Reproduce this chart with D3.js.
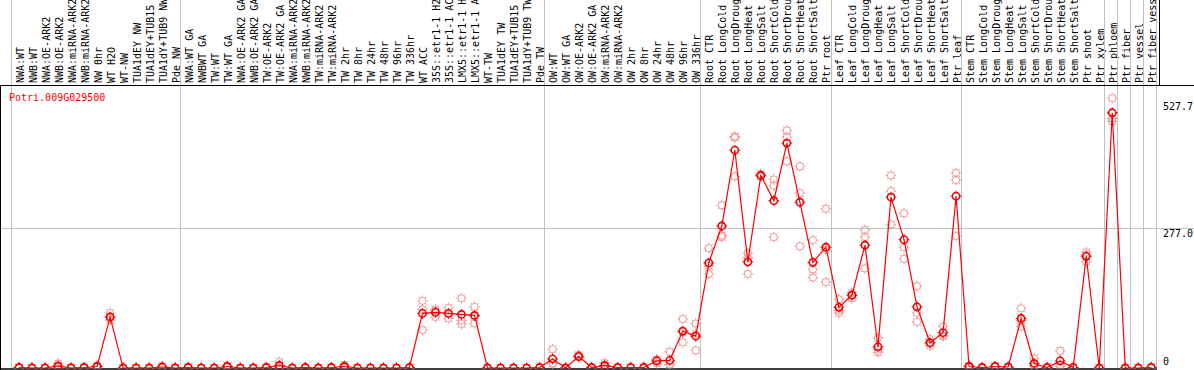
<!DOCTYPE html>
<html><head><meta charset="utf-8">
<script src="https://cdn.jsdelivr.net/npm/d3@7"></script>
<style>
html,body{margin:0;padding:0;background:#fff;}
svg{display:block;}
text{font-family:"DejaVu Sans Mono",monospace;font-size:10px;}
</style></head>
<body>
<script>
const geneName = "Potri.009G029500";
const labels = ["NWA:WT","NWB:WT","NWA:OE-ARK2","NWB:OE-ARK2","NWA:miRNA-ARK2","NWB:miRNA-ARK2","NW 0hr","WT H2O","WT-NW","TUA1dEY NW","TUA1dEY+TUB15 NW","TUA1dY+TUB9 NW","Pde NW",
"NWA:WT GA","NWBWT GA","TW:WT","TW:WT GA","NWA:OE-ARK2 GA","NWB:OE-ARK2 GA","TW:OE-ARK2","TW:OE-ARK2 GA","NWA:miRNA-ARK2 GA","NWB:miRNA-ARK2 GA","TW:miRNA-ARK2","TW:miRNA-ARK2 GA","TW 2hr","TW 8hr","TW 24hr","TW 48hr","TW 96hr","TW 336hr","WT ACC","35S::etr1-1 H2O","35S::etr1-1 ACC","LMX5::etr1-1 H2O","LMX5::etr1-1 ACC","WT-TW","TUA1dEY TW","TUA1dEY+TUB15 TW","TUA1dY+TUB9 TW","Pde TW",
"OW:WT","OW:WT GA","OW:OE-ARK2","OW:OE-ARK2 GA","OW:miRNA-ARK2","OW:miRNA-ARK2 GA","OW 2hr","OW 8hr","OW 24hr","OW 48hr","OW 96hr","OW 336hr",
"Root CTR","Root LongCold","Root LongDrought","Root LongHeat","Root LongSalt","Root ShortCold","Root ShortDrought","Root ShortHeat","Root ShortSalt","Ptr root",
"Leaf CTR","Leaf LongCold","Leaf LongDrought","Leaf LongHeat","Leaf LongSalt","Leaf ShortCold","Leaf ShortDrought","Leaf ShortHeat","Leaf ShortSalt","Ptr leaf",
"Stem CTR","Stem LongCold","Stem LongDrought","Stem LongHeat","Stem LongSalt","Stem ShortCold","Stem ShortDrought","Stem ShortHeat","Stem ShortSalt","Ptr shoot","Ptr xylem",
"Ptr phloem","Ptr fiber","Ptr vessel","Ptr fiber vessel"];
const means = [1,0,0,4,0,1,3,101,0,0,0,2,0,
1,0,0,3,0,0,1,5,0,1,0,1,3,0,0,0,0,1,108,110,108,106,104,0,0,0,0,1,
18,0,23,1,5,1,1,1,14,15,73,63,
208,281,431,210,381,331,445,328,209,239,
120,144,243,42,338,254,121,50,70,340,
3,1,3,2,98,9,1,14,1,221,0,
505,0,0,1];
const rep1 = [1,1,1,9,1,1,5,109,0,1,0,4,1,
2,0,0,5,0,0,2,12,0,1,0,1,6,0,0,0,0,1,133,116,119,138,121,0,0,0,0,1,
37,1,26,1,10,1,1,2,17,32,97,88,
237,322,458,227,384,373,470,399,253,315,
136,149,273,59,381,306,162,57,82,386,
5,1,4,2,118,19,1,34,1,229,0,
534,0,0,2];
const rep2 = [1,0,0,2,0,1,2,100,0,0,0,1,0,
1,0,0,3,0,0,1,2,0,1,0,1,2,0,0,0,0,1,116,113,107,94,103,0,0,0,0,1,
9,0,23,1,3,1,1,1,16,7,71,67,
202,262,456,218,380,361,457,346,195,234,
114,144,259,36,350,239,109,49,65,372,
2,1,3,2,94,4,1,6,1,224,0,
494,0,0,1];
const rep3 = [0,0,0,1,0,0,2,95,0,0,0,1,0,
0,0,0,1,0,0,0,1,0,0,0,0,1,0,0,0,0,0,75,101,98,87,88,0,0,0,0,0,
8,0,21,0,2,0,0,0,9,6,51,35,
186,259,379,186,379,259,409,241,179,170,
109,138,197,31,284,216,91,44,63,261,
2,0,2,1,82,4,0,3,0,210,0,
488,0,0,0];
const groupEnds = [0,13,41,53,63,73,84,85,86,87,88];
const yTicks = [527.7,277.0,0];

const W = 1194, H = 370;
const svg = d3.select("body").append("svg").attr("width",W).attr("height",H);

const x = d3.scaleBand().domain(d3.range(labels.length + 1)).range([10.7, 1156 + 13.02]);
const px = i => x(i) + 8.3;
const y = d3.scaleLinear().domain([0, 527.7]).range([368, 101.3]);

// header labels
svg.append("g").selectAll("text").data(labels).join("text")
  .attr("transform",(d,i)=>`translate(${px(i)+4.5},83) rotate(-90)`)
  .attr("text-anchor","start")
  .attr("fill","#000")
  .text(d=>d);

// vertical grid lines
svg.append("g").selectAll("line").data(groupEnds).join("line")
  .attr("x1",d=>Math.round(x(d))+0.5).attr("x2",d=>Math.round(x(d))+0.5)
  .attr("y1",0).attr("y2",369)
  .attr("stroke","#c0c0c0").attr("stroke-width",1);

// horizontal gridline at 277
svg.append("line").attr("x1",0).attr("x2",W)
  .attr("y1",Math.round(y(277.0))+0.5).attr("y2",Math.round(y(277.0))+0.5)
  .attr("stroke","#c0c0c0");

// header border
svg.append("line").attr("x1",0).attr("x2",W).attr("y1",85.5).attr("y2",85.5).attr("stroke","#000");
svg.append("line").attr("x1",1159.5).attr("x2",1159.5).attr("y1",0).attr("y2",85).attr("stroke","#000");
svg.append("line").attr("x1",0.5).attr("x2",0.5).attr("y1",85).attr("y2",370).attr("stroke","#000");
svg.append("line").attr("x1",0).attr("x2",1157).attr("y1",369).attr("y2",369).attr("stroke","#000").attr("stroke-width",1.5);

// y labels
svg.append("g").selectAll("text").data(yTicks).join("text")
  .attr("x",1163)
  .attr("y",d=> d===0 ? y(0)-3 : y(d)+9)
  .attr("fill","#000")
  .text(d=> d===0 ? "0" : d.toFixed(1));

// title
svg.append("text").attr("x",9).attr("y",101).attr("fill","#ff0000").text(geneName);

// plot clip
svg.append("clipPath").attr("id","pc").append("rect").attr("x",1).attr("y",86).attr("width",1160).attr("height",282.5);
const plot = svg.append("g").attr("clip-path","url(#pc)");

function marker(g, cx, cy, color, sw, r, ticks){
  g.append("circle").attr("cx",cx).attr("cy",cy).attr("r",r)
    .attr("fill","none").attr("stroke",color).attr("stroke-width",sw);
  const angs = ticks===8 ? d3.range(8).map(k=>k*Math.PI/4) : [0,Math.PI/2,Math.PI,3*Math.PI/2];
  angs.forEach(a=>{
    g.append("line")
      .attr("x1",cx+Math.cos(a)*r).attr("y1",cy+Math.sin(a)*r)
      .attr("x2",cx+Math.cos(a)*(r+1.8)).attr("y2",cy+Math.sin(a)*(r+1.8))
      .attr("stroke",color).attr("stroke-width",1);
  });
}

// replicates
const repG = plot.append("g");
[rep1,rep2,rep3].forEach(rep=>{
  rep.forEach((v,i)=>marker(repG, px(i), y(v), "#ee9a9a", 1, 3.6, 8));
});

// mean line
plot.append("path").datum(means)
  .attr("d", d3.line().x((d,i)=>px(i)).y(d=>y(d)))
  .attr("fill","none").attr("stroke","#ff0000").attr("stroke-width",1.2);

// mean markers
const mG = plot.append("g");
means.forEach((v,i)=>marker(mG, px(i), y(v), "#ee0000", 1.6, 3.6, 4));
</script>
</body></html>
